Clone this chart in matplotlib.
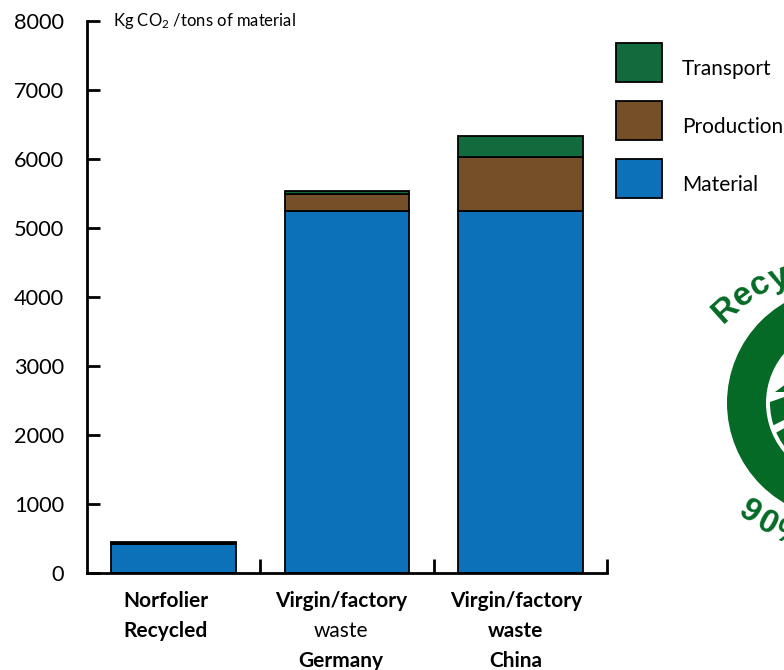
import numpy as np
import matplotlib
matplotlib.use("Agg")
import matplotlib.pyplot as plt
from matplotlib.patches import Circle, Polygon
from matplotlib.transforms import blended_transform_factory

plt.rcParams['font.family'] = ['Lato', 'DejaVu Sans']
plt.rcParams['mathtext.default'] = 'regular'

# values
categories = ["Norfolier", "Virgin/factory", "Virgin/factory"]
material = [415, 5245, 5245]
production = [25, 245, 785]
transport = [15, 50, 305]
yticks = [0, 1000, 2000, 3000, 4000, 5000, 6000, 7000, 8000]

# label lines: (text, weight)
label_lines = [
    [("Norfolier", "bold"), ("Recycled", "bold")],
    [("Virgin/factory", "bold"), ("waste", "normal"), ("Germany", "bold")],
    [("Virgin/factory", "bold"), ("waste", "bold"), ("China", "bold")],
]
label_shift = [-0.045, -0.035, -0.025]

col_material = "#0D71BA"
col_production = "#754F27"
col_transport = "#126B3C"
col_logo = "#046A25"

W, H = 784, 670
fig = plt.figure(figsize=(W / 100, H / 100), dpi=100)
ax = fig.add_axes([87 / W, (H - 573) / H, 520 / W, 552 / H])

x = np.arange(len(categories))
material = np.array(material)
production = np.array(production)
transport = np.array(transport)
edge = dict(edgecolor="black", linewidth=1.3, width=0.72)
b1 = ax.bar(x, material, color=col_material, label="Material", **edge)
b2 = ax.bar(x, production, bottom=material, color=col_production, label="Production", **edge)
b3 = ax.bar(x, transport, bottom=material + production, color=col_transport, label="Transport", **edge)

ax.set_xlim(-0.5, 2.5)
ax.set_ylim(0, 8000)
ax.spines["top"].set_visible(False)
ax.spines["right"].set_visible(False)
ax.spines["left"].set_linewidth(2)
ax.spines["bottom"].set_linewidth(2)
ax.set_yticks(yticks)
ax.set_xticks([0.5, 1.5, 2.5])
ax.set_xticklabels([])
ax.tick_params(axis="y", direction="in", length=9.5, width=2, pad=16.5, labelsize=15.7)
ax.tick_params(axis="x", direction="in", length=10, width=2)

# category labels, one text per line because the weight changes
trans = blended_transform_factory(ax.transData, fig.transFigure)
for i, lines in enumerate(label_lines):
    for j, (txt, weight) in enumerate(lines):
        ax.text(x[i] + label_shift[i], (H - (601 + 30 * j)) / H, txt, transform=trans, ha="center", va="center",
                fontsize=15, fontweight=weight, clip_on=False)

fig.text(113 / W, (H - 21) / H, "Kg CO$_2$ /tons of material", fontsize=12, ha="left", va="center")

leg = ax.legend(handles=[b3, b2, b1], loc="upper left", bbox_to_anchor=(616 / W, (H - 43) / H),
                bbox_transform=fig.transFigure, frameon=False, borderpad=0, borderaxespad=0,
                fontsize=15, handlelength=2.21, handleheight=2.51, labelspacing=0.91, handletextpad=0.96)
for t in leg.get_texts():
    t.set_y(-6)

# logo cut off by the right edge of the picture, drawn in pixel coordinates
over = fig.add_axes([0, 0, 1, 1], zorder=5)
over.set_xlim(0, W)
over.set_ylim(H, 0)
over.axis("off")
cx, cy = 843, 403
over.add_patch(Circle((cx, cy), 116, color=col_logo, lw=0))
over.add_patch(Circle((cx, cy), 77, color="white", lw=0))
clip = Circle((cx, cy), 73, transform=over.transData)
cells = [
    [(790, 381), (790, 392), (775, 392)],
    [(770, 402), (790, 395), (790, 417), (770, 427)],
    [(770, 436), (790, 425), (790, 470), (770, 470)],
    [(778, 466), (790, 462), (790, 490), (778, 490)],
]
for c in cells:
    p = Polygon(c, closed=True, color=col_logo, lw=0)
    over.add_patch(p)
    p.set_clip_path(clip)

letters = [("R", 726, 310, 42), ("e", 743, 296, 36), ("c", 760, 285, 28), ("y", 779, 278, 20),
           ("9", 749, 512, -35), ("0", 767, 524, -28), ("%", 789, 535, -20)]
for ch, lx, ly, rot in letters:
    over.text(lx, ly, ch, color=col_logo, fontsize=24, fontweight="bold", rotation=rot,
              ha="center", va="center", family=["Liberation Sans", "DejaVu Sans"])

fig.savefig("out.png", dpi=100)
